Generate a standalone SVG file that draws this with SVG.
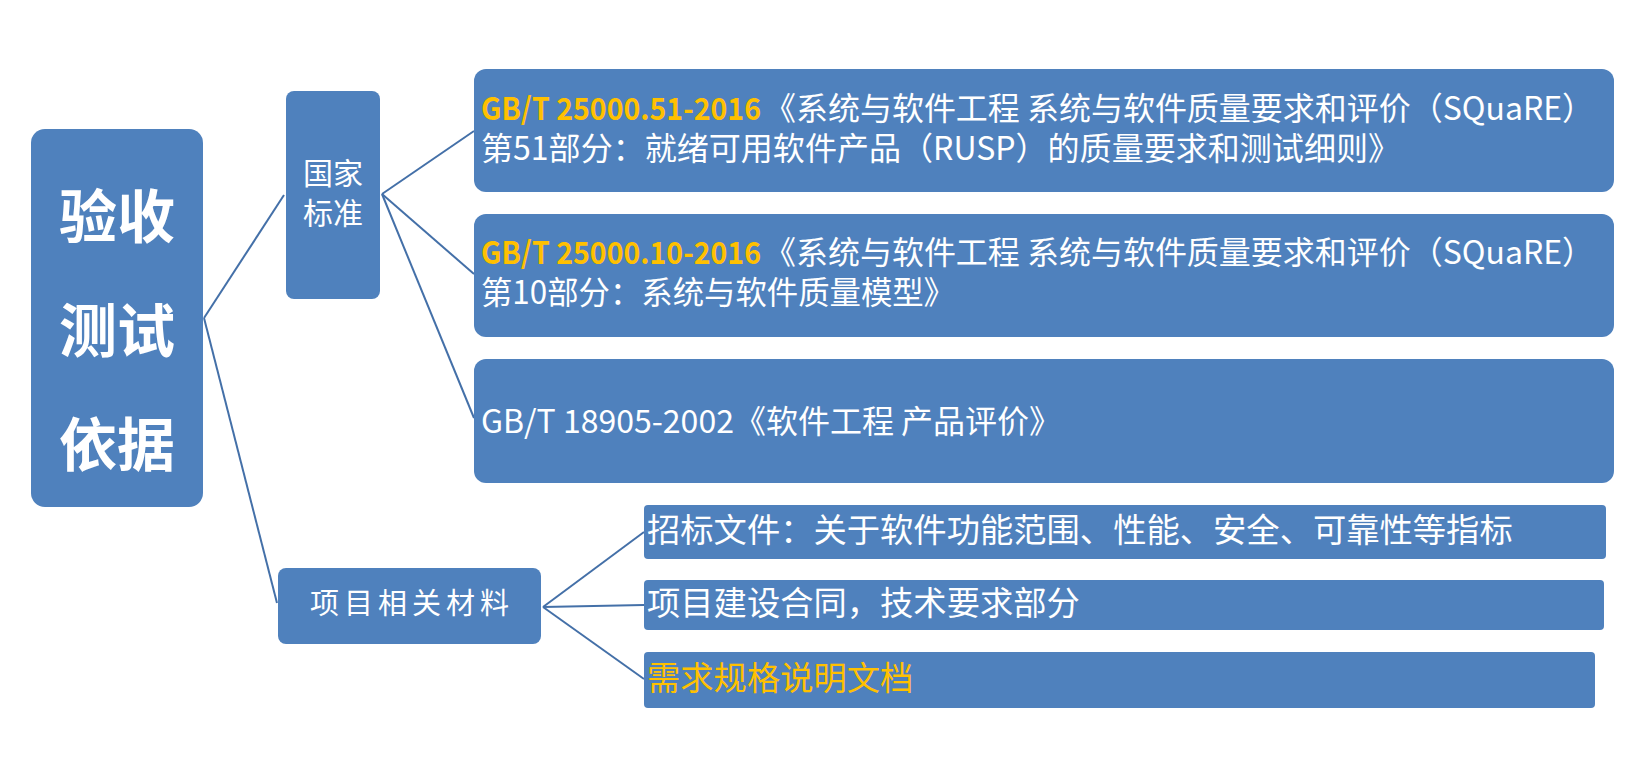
<svg xmlns="http://www.w3.org/2000/svg" width="1632" height="777" viewBox="0 0 1632 777">
<style>
.box{fill:#4F81BD;}
.t{font-family:"Noto Sans CJK SC","Noto Sans",sans-serif;fill:#FFFFFF;}
.o{fill:#FFC000;}
.conn line{stroke:#4470A8;stroke-width:2;fill:none;}
</style>
<rect width="1632" height="777" fill="#FFFFFF"/>
<g class="conn" id="connectors">
<line x1="204" y1="318" x2="284" y2="195"/>
<line x1="204" y1="318" x2="277" y2="603"/>
<line x1="382" y1="194" x2="474" y2="131"/>
<line x1="382" y1="194" x2="474" y2="274"/>
<line x1="382" y1="194" x2="474" y2="418"/>
<line x1="543" y1="607" x2="644" y2="532"/>
<line x1="543" y1="607" x2="644" y2="605"/>
<line x1="543" y1="607" x2="644" y2="679"/>
</g>
<g id="root">
<rect class="box" x="31" y="129" width="172" height="378" rx="14"/>
<text class="t" x="117" y="238" font-size="58" font-weight="bold" text-anchor="middle">验收</text>
<text class="t" x="117" y="352" font-size="58" font-weight="bold" text-anchor="middle">测试</text>
<text class="t" x="117" y="466" font-size="58" font-weight="bold" text-anchor="middle">依据</text>
</g>
<g id="national">
<rect class="box" x="286" y="91" width="94" height="208" rx="8"/>
<text class="t" x="333" y="184" font-size="30" text-anchor="middle">国家</text>
<text class="t" x="333" y="224" font-size="30" text-anchor="middle">标准</text>
</g>
<g id="std1">
<rect class="box" x="474" y="69" width="1140" height="123" rx="12"/>
<text class="t" font-size="32"><tspan class="o" x="481" y="120" font-size="30.5" font-weight="bold" textLength="280" lengthAdjust="spacingAndGlyphs">GB/T 25000.51-2016</tspan><tspan x="764" y="120" textLength="830" lengthAdjust="spacingAndGlyphs">《系统与软件工程 系统与软件质量要求和评价（SQuaRE）</tspan><tspan x="481" y="160" textLength="919" lengthAdjust="spacingAndGlyphs">第51部分：就绪可用软件产品（RUSP）的质量要求和测试细则》</tspan></text>
</g>
<g id="std2">
<rect class="box" x="474" y="214" width="1140" height="123" rx="12"/>
<text class="t" font-size="32"><tspan class="o" x="481" y="264" font-size="30.5" font-weight="bold" textLength="280" lengthAdjust="spacingAndGlyphs">GB/T 25000.10-2016</tspan><tspan x="764" y="264" textLength="830" lengthAdjust="spacingAndGlyphs">《系统与软件工程 系统与软件质量要求和评价（SQuaRE）</tspan><tspan x="481" y="304" textLength="474" lengthAdjust="spacingAndGlyphs">第10部分：系统与软件质量模型》</tspan></text>
</g>
<g id="std3">
<rect class="box" x="474" y="359" width="1140" height="124" rx="12"/>
<text class="t" x="481" y="433" font-size="32">GB/T 18905-2002《软件工程 产品评价》</text>
</g>
<g id="project">
<rect class="box" x="278" y="568" width="263" height="76" rx="8"/>
<text class="t" x="310" y="614" font-size="29" letter-spacing="5">项目相关材料</text>
</g>
<g id="item1">
<rect class="box" x="644" y="505" width="962" height="54" rx="4"/>
<text class="t" x="647" y="542" font-size="33.3">招标文件：关于软件功能范围、性能、安全、可靠性等指标</text>
</g>
<g id="item2">
<rect class="box" x="644" y="580" width="960" height="50" rx="4"/>
<text class="t" x="647" y="615" font-size="33.3">项目建设合同，技术要求部分</text>
</g>
<g id="item3">
<rect class="box" x="644" y="652" width="951" height="56" rx="4"/>
<text class="t o" x="647" y="690" font-size="33.3">需求规格说明文档</text>
</g>
</svg>
